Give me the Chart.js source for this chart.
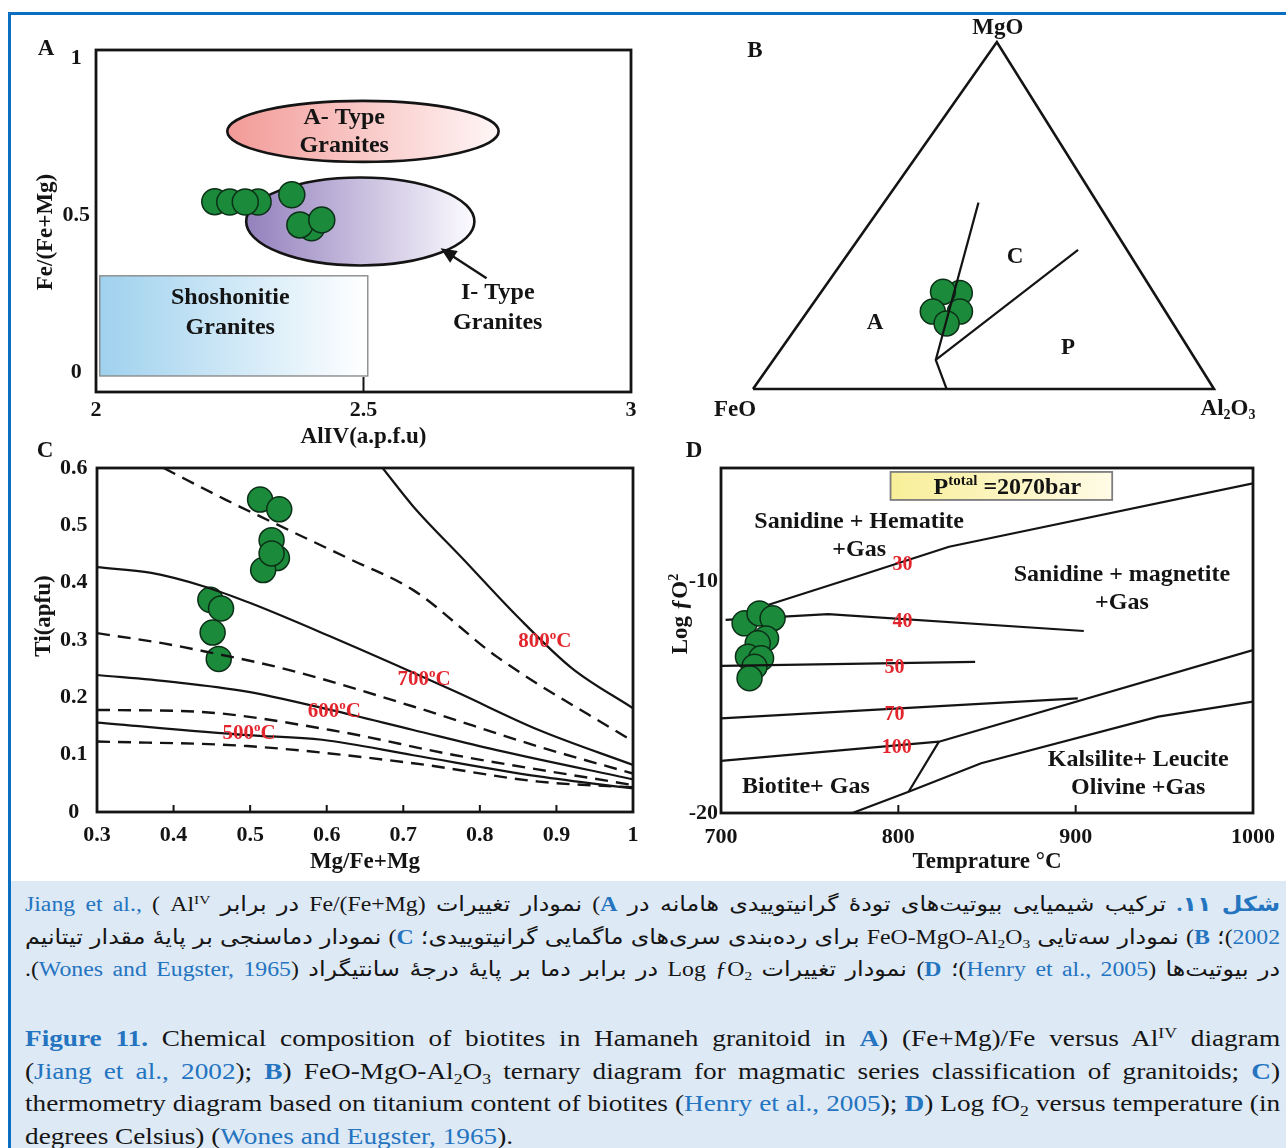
<!DOCTYPE html>
<html lang="en"><head><meta charset="utf-8"><title>Figure 11</title>
<script src="https://cdn.jsdelivr.net/npm/chart.js@4.4.1/dist/chart.umd.min.js"></script>
<style>
html,body{margin:0;padding:0;background:#fff;}
body{width:1286px;height:1148px;position:relative;overflow:hidden;font-family:"Liberation Serif","Times New Roman",serif;}
.frameT{position:absolute;left:8px;top:12px;width:1278px;height:3px;background:#0b6fc1;}
.frameL{position:absolute;left:8px;top:12px;width:3px;height:1136px;background:#0b6fc1;}
canvas{position:absolute;}
#cap{position:absolute;left:11px;top:881px;width:1275px;height:267px;background:#dee9f6;}
.ln{position:absolute;left:14px;width:1082px;height:32px;line-height:32px;white-space:nowrap;transform:scaleX(1.16);transform-origin:0 0;color:#151515;text-align:justify;text-align-last:justify;}
.en{font-size:23.5px;}
.fa{font-size:20.5px;direction:rtl;font-family:"Liberation Serif","DejaVu Sans",serif;}
.bl{color:#2474c0;}
sup,sub{font-size:65%;line-height:0;position:relative;vertical-align:baseline;}
sup{top:-0.5em;} sub{top:0.3em;}
.last{text-align:left;text-align-last:left;}
</style></head>
<body>
<div class="frameT"></div><div class="frameL"></div>
<canvas id="cA" width="650" height="450" style="left:0;top:0"></canvas>
<canvas id="cB" width="636" height="440" style="left:650px;top:0"></canvas>
<canvas id="cC" width="650" height="440" style="left:0;top:440px"></canvas>
<canvas id="cD" width="636" height="440" style="left:650px;top:440px"></canvas>
<div id="cap">
<div class="ln fa" style="top:7px"><b class="bl">شکل ۱۱.</b> ترکیب شیمیایی بیوتیت‌های تودهٔ گرانیتوییدی هامانه در <b class="bl">A</b>) نمودار تغییرات <bdi dir="ltr">Fe/(Fe+Mg)</bdi> در برابر <bdi dir="ltr">Al<sup>IV</sup></bdi> <bdi dir="ltr"><span class="bl">Jiang et al.,</span> (</bdi></div>
<div class="ln fa" style="top:40px"><bdi dir="ltr" class="bl">2002</bdi>)؛ <b class="bl">B</b>) نمودار سه‌تایی <bdi dir="ltr">FeO-MgO-Al<sub>2</sub>O<sub>3</sub></bdi> برای رده‌بندی سری‌های ماگمایی گرانیتوییدی؛ <b class="bl">C</b>) نمودار دماسنجی بر پایهٔ مقدار تیتانیم</div>
<div class="ln fa" style="top:72px">در بیوتیت‌ها (<bdi dir="ltr" class="bl">Henry et al., 2005</bdi>)؛ <b class="bl">D</b>) نمودار تغییرات <bdi dir="ltr">Log ƒO<sub>2</sub></bdi> در برابر دما بر پایهٔ درجهٔ سانتیگراد (<bdi dir="ltr" class="bl">Wones and Eugster, 1965</bdi>).</div>
<div class="ln en" style="top:141px"><b class="bl">Figure 11.</b> Chemical composition of biotites in Hamaneh granitoid in <b class="bl">A</b>) (Fe+Mg)/Fe versus Al<sup>IV</sup> diagram</div>
<div class="ln en" style="top:174px">(<span class="bl">Jiang et al., 2002</span>); <b class="bl">B</b>) FeO-MgO-Al<sub>2</sub>O<sub>3</sub> ternary diagram for magmatic series classification of granitoids; <b class="bl">C</b>)</div>
<div class="ln en" style="top:206px">thermometry diagram based on titanium content of biotites (<span class="bl">Henry et al., 2005</span>); <b class="bl">D</b>) Log fO<sub>2</sub> versus temperature (in</div>
<div class="ln en last" style="top:239px">degrees Celsius) (<span class="bl">Wones and Eugster, 1965</span>).</div>
</div>
<script>
// ================= DATA =================
// Panel A : Fe/(Fe+Mg) vs AlIV (a.p.f.u)
const aAlIV   = [2.222, 2.250, 2.303, 2.279, 2.366, 2.403, 2.381, 2.422];
const aFeFeMg = [0.542, 0.541, 0.541, 0.541, 0.564, 0.459, 0.468, 0.484];
const aXTicks = [2, 2.5, 3];
const aYTicks = [0, 0.5, 1];
const aTypeField = [2.499, 0.766, 0.2536, 0.0971];   // centre x, centre y, radius x, radius y
const iTypeField = [2.494, 0.479, 0.2133, 0.1401];
const shoshField = [2.007, 2.508, -0.013, 0.306];    // x1, x2, y1, y2
const aArrow     = [2.730, 0.298, 2.644, 0.394];     // from x,y -> to x,y
const aLabelText = ['A- Type', 'Granites', 'Shoshonitie', 'Granites', 'I- Type', 'Granites'];
const aLabelX    = [2.464, 2.464, 2.251, 2.251, 2.751, 2.751];
const aLabelY    = [0.814, 0.727, 0.240, 0.147, 0.256, 0.163];

// Panel B : FeO-MgO-Al2O3 ternary (percent)
const bFeO   = [42.1, 44.6, 45.6, 50.5, 49.1];
const bMgO   = [27.7, 22.3, 28.0, 22.3, 18.9];
const bAl2O3 = [30.2, 33.1, 26.4, 27.2, 32.0];
const bEdgeFeO = [100, 0, 0, 100], bEdgeMgO = [0, 0, 100, 0], bEdgeAl = [0, 100, 0, 0];
const bLine1FeO = [58.0, 56.4, 25.8], bLine1MgO = [0, 8.4, 53.7], bLine1Al = [42.0, 35.2, 20.5];
const bLine2FeO = [56.4, 10.6],       bLine2MgO = [8.4, 40.1],     bLine2Al = [35.2, 49.3];
const bFieldText = ['A', 'C', 'P'];
const bFieldFeO = [64.4, 25.0, 25.9], bFieldMgO = [19.4, 38.6, 12.2], bFieldAl = [16.2, 36.4, 61.9];
const bApexX = 0.529;   // horizontal position of the MgO apex (drawing is not equilateral)

// Panel C : Ti (apfu) vs Mg/(Fe+Mg)
const cMgFeMg = [0.513, 0.538, 0.535, 0.517, 0.528, 0.528, 0.448, 0.462, 0.451, 0.459];
const cTi     = [0.545, 0.528, 0.443, 0.422, 0.474, 0.451, 0.370, 0.355, 0.313, 0.267];
const cXTicks = [0.3, 0.4, 0.5, 0.6, 0.7, 0.8, 0.9, 1];
const cYTicks = [0, 0.1, 0.2, 0.3, 0.4, 0.5, 0.6];
const c800X = [0.673, 0.713, 0.779, 0.849, 0.920, 1.0], c800Y = [0.600, 0.533, 0.440, 0.341, 0.251, 0.181];
const c700X = [0.3, 0.371, 0.441, 0.501, 0.605, 0.768, 0.877, 1.0], c700Y = [0.427, 0.417, 0.393, 0.364, 0.306, 0.210, 0.143, 0.082];
const c600X = [0.3, 0.398, 0.496, 0.605, 0.713, 0.822, 1.0], c600Y = [0.239, 0.227, 0.210, 0.178, 0.143, 0.108, 0.057];
const c500X = [0.3, 0.496, 0.594, 0.713, 0.877, 1.0], c500Y = [0.156, 0.134, 0.126, 0.099, 0.062, 0.041];
const cDash1X = [0.387, 0.469, 0.550, 0.632, 0.713, 0.822, 1.0], cDash1Y = [0.600, 0.544, 0.492, 0.440, 0.387, 0.271, 0.123];
const cDash2X = [0.3, 0.387, 0.441, 0.550, 0.713, 0.877, 1.0], cDash2Y = [0.312, 0.294, 0.280, 0.248, 0.184, 0.114, 0.067];
const cDash3X = [0.3, 0.430, 0.605, 0.768, 1.0], cDash3Y = [0.178, 0.175, 0.143, 0.099, 0.047];
const cDash4X = [0.3, 0.496, 0.713, 0.877, 1.0], cDash4Y = [0.123, 0.115, 0.085, 0.053, 0.043];
const cIsoText = ['800', '700', '600', '500'];
const cIsoX = [0.885, 0.727, 0.610, 0.4985], cIsoY = [0.300, 0.234, 0.178, 0.140];

// Panel D : Log fO2 vs temperature
const dTemp   = [713.3, 721.7, 729.1, 725.4, 720.7, 715.2, 722.6, 718.9, 716.1];
const dLogfO2 = [-11.81, -11.38, -11.59, -12.46, -12.67, -13.25, -13.32, -13.68, -14.18];
const dXTicks = [700, 800, 900, 1000];
const dYTicks = [-20, -10];
const dHmX = [726.4, 774.1, 828.6, 1000], dHmY = [-11.02, -9.85, -8.50, -5.76];
const d40X = [702.6, 760.4, 904.6], d40Y = [-11.66, -11.41, -12.14];
const d50X = [700.3, 843.3], d50Y = [-13.65, -13.47];
const d70X = [700, 901.2], d70Y = [-15.91, -15.05];
const d100X = [700, 822.9], d100Y = [-17.75, -16.92];
const dMkX = [822.9, 1000], dMkY = [-16.92, -12.96];
const dBkX = [822.9, 805.8], dBkY = [-16.92, -19.08];
const dKlX = [774.1, 805.8, 846.7, 946.6, 1000], dKlY = [-20, -19.08, -17.85, -15.84, -15.19];
const dRedText = ['30', '40', '50', '70', '100'];
const dRedX = [802.4, 802.4, 797.9, 797.9, 799.1], dRedY = [-9.22, -11.69, -13.65, -15.69, -17.11];
const dFieldText = ['Sanidine + Hematite', '+Gas', 'Sanidine + magnetite', '+Gas', 'Biotite+ Gas', 'Kalsilite+ Leucite', 'Olivine +Gas'];
const dFieldX = [777.9, 777.9, 926.1, 926.1, 747.9, 935.3, 935.3];
const dFieldY = [-7.37, -8.56, -9.64, -10.86, -18.79, -17.64, -18.83];
const dPressureBox = [795.6, 920.6, -6.48, -5.27];   // x1, x2, y1, y2

// ================= HELPERS =================
const GREEN = '#1b8a3b', GREEN_EDGE = '#0c2f17', INK = '#141414', RED = '#e3262d';
const FONT = '"Liberation Serif","Times New Roman",serif';
Chart.defaults.font.family = FONT;
Chart.defaults.color = INK;
Chart.defaults.animation = false;
Chart.defaults.events = [];
Chart.defaults.plugins.legend.display = false;
Chart.defaults.plugins.tooltip.enabled = false;

const f = (size) => `bold ${size}px ${FONT}`;
const fmt = (v) => String(Math.round(v * 1000) / 1000);
const zip = (xs, ys) => xs.map((x, i) => ({x, y: ys[i]}));
const tern = (fe, mg, al) => fe.map((_, i) => ({x: (al[i] + mg[i] * bApexX) / 100, y: mg[i] / 100}));

function rich(ctx, segs, x, y, size, color = INK, align = 'center') {
  ctx.save();
  ctx.fillStyle = color; ctx.textBaseline = 'alphabetic'; ctx.textAlign = 'left';
  let total = 0;
  const parts = segs.map(s => {
    const sz = (s.sup || s.sub) ? Math.round(size * 0.62) : size;
    ctx.font = f(sz);
    const w = ctx.measureText(s.t).width;
    total += w;
    return {t: s.t, sz, w, dy: s.sup ? -size * 0.36 : (s.sub ? size * 0.2 : 0)};
  });
  let cx = align === 'center' ? x - total / 2 : (align === 'right' ? x - total : x);
  const base = y + size * 0.33;
  parts.forEach(p => { ctx.font = f(p.sz); ctx.fillText(p.t, cx, base + p.dy); cx += p.w; });
  ctx.restore();
}
const txt = (ctx, s, x, y, size, color, align) => rich(ctx, [{t: s}], x, y, size, color, align);
function vTitle(ctx, segs, x, y, size) {
  ctx.save(); ctx.translate(x, y); ctx.rotate(-Math.PI / 2); rich(ctx, segs, 0, 0, size); ctx.restore();
}
function frame(chart, w = 2.8) {
  const {ctx, chartArea: a} = chart;
  ctx.save(); ctx.strokeStyle = INK; ctx.lineWidth = w;
  ctx.strokeRect(a.left, a.top, a.right - a.left, a.bottom - a.top); ctx.restore();
}
function innerTicks(chart, values, len) {
  const {ctx, chartArea: a, scales: {x}} = chart;
  ctx.save(); ctx.strokeStyle = INK; ctx.lineWidth = 2;
  values.forEach(v => { const px = x.getPixelForValue(v); ctx.beginPath(); ctx.moveTo(px, a.bottom); ctx.lineTo(px, a.bottom - len); ctx.stroke(); });
  ctx.restore();
}
function makeScales(o) {
  const tickFont = {family: FONT, size: 22, weight: 'bold'};
  return {
    x: {type: 'linear', position: 'bottom', min: o.xMin, max: o.xMax,
      afterBuildTicks: s => { s.ticks = o.xTicks.map(v => ({value: v})); },
      afterFit: s => { s.height = o.xH; },
      grid: {display: false, drawTicks: false}, border: {display: false},
      ticks: {padding: o.xPad, font: tickFont, color: INK, maxRotation: 0, minRotation: 0, autoSkip: false, callback: v => fmt(v)},
      title: {display: true, text: o.xTitle, font: {family: FONT, size: 23, weight: 'bold', lineHeight: 1}, color: INK, padding: {top: 0, bottom: o.xTitlePad}}},
    y: {type: 'linear', position: 'left', min: o.yMin, max: o.yMax,
      afterBuildTicks: s => { s.ticks = o.yTicks.map(v => ({value: v})); },
      afterFit: s => { s.width = o.yW; },
      grid: {display: false, drawTicks: false}, border: {display: false},
      ticks: {padding: o.yPad, font: tickFont, color: INK, crossAlign: o.cross, autoSkip: false, callback: v => fmt(v)}}
  };
}
const pointSet = (data, r, order) => ({type: 'scatter', data, pointRadius: r, pointHoverRadius: r, backgroundColor: GREEN, borderColor: GREEN_EDGE, borderWidth: 1.5, clip: false, order});
const lineSet = (data, opts = {}) => Object.assign({type: 'line', data, borderColor: INK, borderWidth: 2.2, pointRadius: 0, fill: false, tension: 0, order: 0}, opts);

// ================= PANEL A =================
new Chart(document.getElementById('cA'), {
  type: 'scatter',
  data: {datasets: [pointSet(zip(aAlIV, aFeFeMg), 13, 0)]},
  options: {
    responsive: false,
    layout: {padding: {left: 0, top: 50, right: 19, bottom: 0}},
    scales: makeScales({xMin: 2, xMax: 3, yMin: -0.064, yMax: 1.025, xTicks: aXTicks, yTicks: aYTicks,
      xH: 58, yW: 96, xPad: 5, yPad: 6, cross: 'center', xTitle: 'AlIV(a.p.f.u)', xTitlePad: 1.5})
  },
  plugins: [{
    id: 'panelA',
    beforeDatasetsDraw(chart) {
      const {ctx, scales: {x, y}} = chart;
      const ell = (e, c0, c1) => {
        const cx = x.getPixelForValue(e[0]), cy = y.getPixelForValue(e[1]);
        const rx = x.getPixelForValue(e[0] + e[2]) - cx, ry = cy - y.getPixelForValue(e[1] + e[3]);
        const g = ctx.createLinearGradient(cx - rx, 0, cx + rx, 0);
        g.addColorStop(0, c0); g.addColorStop(1, c1);
        ctx.save(); ctx.beginPath(); ctx.ellipse(cx, cy, rx, ry, 0, 0, Math.PI * 2);
        ctx.fillStyle = g; ctx.fill(); ctx.lineWidth = 2.6; ctx.strokeStyle = INK; ctx.stroke(); ctx.restore();
      };
      ell(aTypeField, '#f29a97', '#fff6f6');
      ell(iTypeField, '#9380bd', '#fcfbff');
      const x1 = x.getPixelForValue(shoshField[0]), x2 = x.getPixelForValue(shoshField[1]);
      const y1 = y.getPixelForValue(shoshField[2]), y2 = y.getPixelForValue(shoshField[3]);
      const g = ctx.createLinearGradient(x1, 0, x2, 0);
      g.addColorStop(0, '#9fd1ee'); g.addColorStop(1, '#ffffff');
      ctx.save(); ctx.fillStyle = g; ctx.fillRect(x1, y2, x2 - x1, y1 - y2);
      ctx.strokeStyle = '#8a8a8a'; ctx.lineWidth = 1.4; ctx.strokeRect(x1, y2, x2 - x1, y1 - y2); ctx.restore();
      const ax1 = x.getPixelForValue(aArrow[0]), ay1 = y.getPixelForValue(aArrow[1]);
      const ax2 = x.getPixelForValue(aArrow[2]), ay2 = y.getPixelForValue(aArrow[3]);
      const ang = Math.atan2(ay2 - ay1, ax2 - ax1);
      ctx.save(); ctx.strokeStyle = INK; ctx.fillStyle = INK; ctx.lineWidth = 2.4;
      ctx.beginPath(); ctx.moveTo(ax1, ay1); ctx.lineTo(ax2 - 10 * Math.cos(ang), ay2 - 10 * Math.sin(ang)); ctx.stroke();
      ctx.beginPath(); ctx.moveTo(ax2, ay2);
      ctx.lineTo(ax2 - 16 * Math.cos(ang) + 7 * Math.sin(ang), ay2 - 16 * Math.sin(ang) - 7 * Math.cos(ang));
      ctx.lineTo(ax2 - 16 * Math.cos(ang) - 7 * Math.sin(ang), ay2 - 16 * Math.sin(ang) + 7 * Math.cos(ang));
      ctx.closePath(); ctx.fill(); ctx.restore();
      aLabelText.forEach((t, i) => txt(ctx, t, x.getPixelForValue(aLabelX[i]), y.getPixelForValue(aLabelY[i]), 24));
      frame(chart);
      innerTicks(chart, [2.5], 15);
      txt(ctx, 'A', 46, 47, 23);
      vTitle(ctx, [{t: 'Fe/(Fe+Mg)'}], 44, 232, 23);
    }
  }]
});

// ================= PANEL B =================
new Chart(document.getElementById('cB'), {
  type: 'scatter',
  data: {datasets: [
    lineSet(tern(bEdgeFeO, bEdgeMgO, bEdgeAl), {borderWidth: 2.6, clip: false}),
    lineSet(tern(bLine1FeO, bLine1MgO, bLine1Al), {clip: false}),
    lineSet(tern(bLine2FeO, bLine2MgO, bLine2Al), {clip: false}),
    pointSet(tern(bFeO, bMgO, bAl2O3), 12.5, 1)
  ]},
  options: {
    responsive: false,
    layout: {padding: {left: 103, top: 42, right: 72, bottom: 51}},
    scales: {x: {type: 'linear', min: 0, max: 1, display: false}, y: {type: 'linear', min: 0, max: 1, display: false}}
  },
  plugins: [{
    id: 'panelB',
    afterDatasetsDraw(chart) {
      const {ctx, scales: {x, y}} = chart;
      const pos = tern(bFieldFeO, bFieldMgO, bFieldAl);
      bFieldText.forEach((t, i) => txt(ctx, t, x.getPixelForValue(pos[i].x), y.getPixelForValue(pos[i].y), 23));
      const top = {x: x.getPixelForValue(bApexX), y: y.getPixelForValue(1)};
      const lft = {x: x.getPixelForValue(0), y: y.getPixelForValue(0)};
      const rgt = {x: x.getPixelForValue(1), y: y.getPixelForValue(0)};
      txt(ctx, 'MgO', top.x + 1, top.y - 16, 23);
      txt(ctx, 'FeO', lft.x - 18, lft.y + 19, 23);
      rich(ctx, [{t: 'Al'}, {t: '2', sub: true}, {t: 'O'}, {t: '3', sub: true}], rgt.x + 14, rgt.y + 18, 23);
      txt(ctx, 'B', 105, 49, 23);
    }
  }]
});

// ================= PANEL C =================
const dash = [13, 8];
new Chart(document.getElementById('cC'), {
  type: 'scatter',
  data: {datasets: [
    pointSet(zip(cMgFeMg, cTi), 12.5, 1),
    lineSet(zip(c800X, c800Y), {cubicInterpolationMode: 'monotone'}),
    lineSet(zip(c700X, c700Y), {cubicInterpolationMode: 'monotone'}),
    lineSet(zip(c600X, c600Y), {cubicInterpolationMode: 'monotone'}),
    lineSet(zip(c500X, c500Y), {cubicInterpolationMode: 'monotone'}),
    lineSet(zip(cDash1X, cDash1Y), {cubicInterpolationMode: 'monotone', borderDash: dash, borderWidth: 2.4}),
    lineSet(zip(cDash2X, cDash2Y), {cubicInterpolationMode: 'monotone', borderDash: dash, borderWidth: 2.4}),
    lineSet(zip(cDash3X, cDash3Y), {cubicInterpolationMode: 'monotone', borderDash: dash, borderWidth: 2.4}),
    lineSet(zip(cDash4X, cDash4Y), {cubicInterpolationMode: 'monotone', borderDash: dash, borderWidth: 2.4})
  ]},
  options: {
    responsive: false,
    layout: {padding: {left: 0, top: 28, right: 17, bottom: 0}},
    scales: makeScales({xMin: 0.3, xMax: 1, yMin: 0, yMax: 0.6, xTicks: cXTicks, yTicks: cYTicks,
      xH: 68, yW: 97, xPad: 10, yPad: 9.5, cross: 'center', xTitle: 'Mg/Fe+Mg', xTitlePad: 6.5})
  },
  plugins: [{
    id: 'panelC',
    afterDatasetsDraw(chart) {
      const {ctx, scales: {x, y}} = chart;
      cIsoText.forEach((t, i) => rich(ctx, [{t}, {t: 'o', sup: true}, {t: 'C'}], x.getPixelForValue(cIsoX[i]), y.getPixelForValue(cIsoY[i]), 21, RED));
      frame(chart);
      innerTicks(chart, cXTicks.slice(1, -1), 7);
      txt(ctx, 'C', 45, 9, 23);
      vTitle(ctx, [{t: 'Ti(apfu)'}], 42, 176, 23);
    }
  }]
});

// ================= PANEL D =================
new Chart(document.getElementById('cD'), {
  type: 'scatter',
  data: {datasets: [
    pointSet(zip(dTemp, dLogfO2), 12.5, 1),
    lineSet(zip(dHmX, dHmY), {order: 2}),
    lineSet(zip(d40X, d40Y), {order: 2}),
    lineSet(zip(d50X, d50Y), {order: 0}),
    lineSet(zip(d70X, d70Y), {order: 2}),
    lineSet(zip(d100X, d100Y), {order: 2}),
    lineSet(zip(dMkX, dMkY), {order: 2}),
    lineSet(zip(dBkX, dBkY), {order: 2}),
    lineSet(zip(dKlX, dKlY), {order: 2})
  ]},
  options: {
    responsive: false,
    layout: {padding: {left: 0, top: 28, right: 25, bottom: 0}},
    scales: makeScales({xMin: 700, xMax: 1000, yMin: -20, yMax: -5.1, xTicks: dXTicks, yTicks: dYTicks,
      xH: 67, yW: 71, xPad: 11, yPad: 3, cross: 'near', xTitle: 'Temprature °C', xTitlePad: 6.5})
  },
  plugins: [{
    id: 'panelD',
    beforeDatasetsDraw(chart) {
      const {ctx, scales: {x, y}} = chart;
      const x1 = x.getPixelForValue(dPressureBox[0]), x2 = x.getPixelForValue(dPressureBox[1]);
      const y1 = y.getPixelForValue(dPressureBox[3]), y2 = y.getPixelForValue(dPressureBox[2]);
      const g = ctx.createLinearGradient(x1, 0, x2, 0);
      g.addColorStop(0, '#f8ee98'); g.addColorStop(1, '#fffbe6');
      ctx.save(); ctx.fillStyle = g; ctx.fillRect(x1, y1, x2 - x1, y2 - y1);
      ctx.strokeStyle = '#7d7d7d'; ctx.lineWidth = 1.8; ctx.strokeRect(x1, y1, x2 - x1, y2 - y1); ctx.restore();
      rich(ctx, [{t: 'P'}, {t: 'total', sup: true}, {t: ' =2070bar'}], (x1 + x2) / 2 + 6, (y1 + y2) / 2, 24);
    },
    afterDatasetsDraw(chart) {
      const {ctx, scales: {x, y}} = chart;
      dRedText.forEach((t, i) => txt(ctx, t, x.getPixelForValue(dRedX[i]), y.getPixelForValue(dRedY[i]), 20, RED));
      dFieldText.forEach((t, i) => txt(ctx, t, x.getPixelForValue(dFieldX[i]), y.getPixelForValue(dFieldY[i]), 24));
      frame(chart);
      innerTicks(chart, [800, 900], 8);
      txt(ctx, 'D', 44, 9, 23);
      vTitle(ctx, [{t: 'Log '}, {t: 'ƒ'}, {t: 'O'}, {t: '2', sup: true}], 29, 174, 23);
    }
  }]
});
</script>
</body></html>
